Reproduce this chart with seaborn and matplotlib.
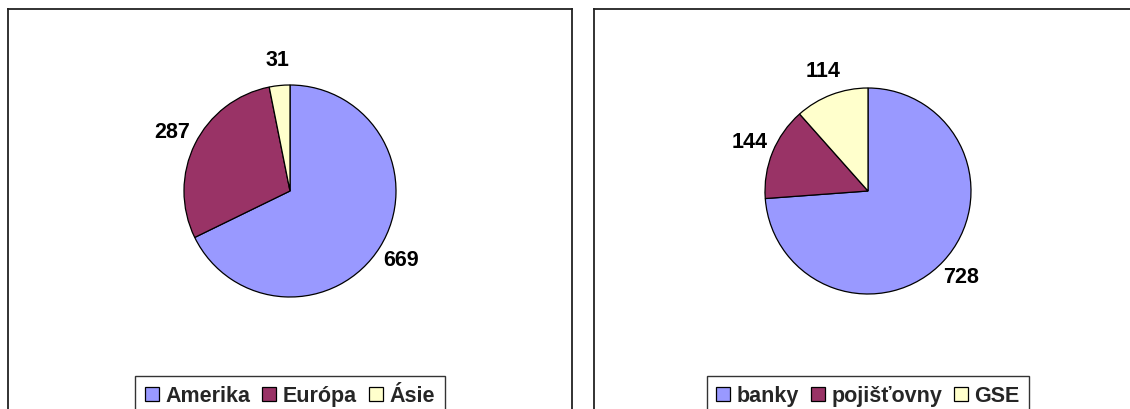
import matplotlib
matplotlib.use("Agg")
import matplotlib.pyplot as plt
import seaborn as sns

# data
regions = ["Amerika", "Európa", "Ásie"]
region_values = [669, 287, 31]

sectors = ["banky", "pojišťovny", "GSE"]
sector_values = [728, 144, 114]

sns.set_theme(style="white")
plt.rcParams['font.family'] = ['Liberation Sans', 'DejaVu Sans']

colors = sns.color_palette(["#9999FF", "#993366", "#FFFFCC"])

W, H = 1130, 409
fig = plt.figure(figsize=(W / 100, H / 100), dpi=100)


def px_axes(x0, y0, x1, y1):
    # axes from pixel box (top-left origin)
    return fig.add_axes([x0 / W, 1 - y1 / H, (x1 - x0) / W, (y1 - y0) / H])


def frame_box(x0, y0, x1, y1):
    ax = px_axes(x0, y0, x1, y1)
    ax.set_xticks([])
    ax.set_yticks([])
    ax.patch.set_alpha(0)
    for s in ax.spines.values():
        s.set_color("#222222")
        s.set_linewidth(1.3)
    return ax


def draw_pie(cx, cy, r, values, names):
    half = 160
    ax = px_axes(cx - half, cy - half, cx + half, cy + half)
    wedges, texts = ax.pie(values, colors=colors, startangle=90, counterclock=False,
                           labels=[str(v) for v in values], labeldistance=1.24,
                           radius=r / 106,
                           wedgeprops=dict(edgecolor="black", linewidth=0.9),
                           textprops=dict(fontsize=15.5, fontweight="bold", color="black"))
    for t in texts:
        t.set_ha("center")
        t.set_va("center")
    lim = half / 106
    ax.set_xlim(-lim, lim)
    ax.set_ylim(-lim, lim)
    leg = ax.legend(wedges, names, ncol=3, loc="upper center",
                    bbox_to_anchor=(cx / W, 1 - 376 / H), bbox_transform=fig.transFigure,
                    prop=dict(size=15.5, weight="bold"), frameon=True, fancybox=False,
                    handlelength=0.65, handleheight=0.65, handletextpad=0.3,
                    columnspacing=0.55, borderpad=0.45, borderaxespad=0)
    leg.get_frame().set_edgecolor("black")
    leg.get_frame().set_linewidth(1.0)
    for h in leg.legend_handles:
        h.set_edgecolor("black")
        h.set_linewidth(0.9)
    return ax


frame_box(8, 9, 572, 420)
frame_box(594, 9, 1140, 420)

draw_pie(290, 191, 106, region_values, regions)
draw_pie(868, 191, 103, sector_values, sectors)

fig.savefig("out.png", dpi=100)
